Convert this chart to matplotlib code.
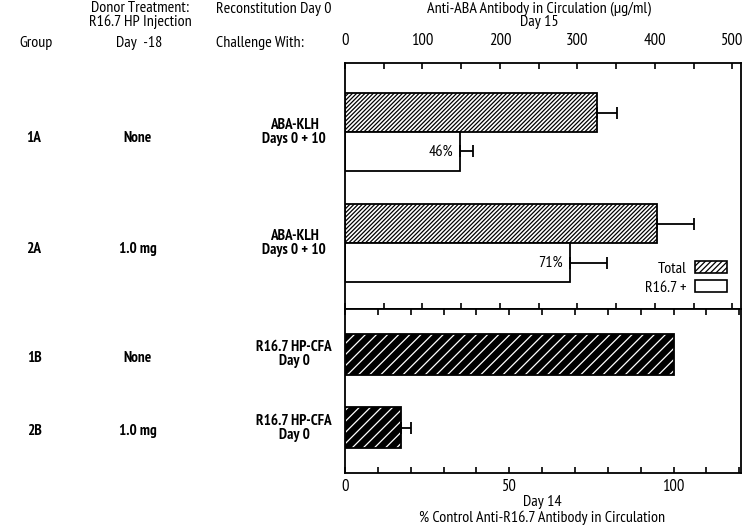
import numpy as np
import matplotlib.pyplot as plt
from matplotlib.patches import Patch
from matplotlib.transforms import blended_transform_factory
from matplotlib.ticker import MultipleLocator

plt.rcParams['font.family'] = ['PT Sans Narrow', 'DejaVu Sans']
plt.rcParams['font.size'] = 11.5
plt.rcParams['hatch.linewidth'] = 0.9

# top panel: anti-ABA antibody, day 15 (ug/ml)
aba_groups = ["1A", "2A"]
aba_donor = ["None", "1.0 mg"]
aba_challenge = ["ABA-KLH\nDays 0 + 10", "ABA-KLH\nDays 0 + 10"]
aba_total = [325, 402]
aba_total_err = [26, 48]
aba_r167 = [149, 290]
aba_r167_err = [16, 48]
aba_pct = ["46%", "71%"]

# bottom panel: % control anti-R16.7 antibody, day 14
r167_groups = ["1B", "2B"]
r167_donor = ["None", "1.0 mg"]
r167_challenge = ["R16.7 HP-CFA\nDay 0", "R16.7 HP-CFA\nDay 0"]
r167_pct = [100, 17]
r167_err = [0, 3]

W, H = 745, 527
FS = 11.5   # regular text
FB = 11     # bold row labels
HATCH_TOP = "////////"
HATCH_BOT = "///"


def fx(px):
    return px / W


def fy(py):
    return 1 - py / H


fig = plt.figure(figsize=(W / 100, H / 100), dpi=100)
ax1 = fig.add_axes([fx(345), fy(309), (741 - 345) / W, (309 - 63) / H])
ax2 = fig.add_axes([fx(345), fy(473), (741 - 345) / W, (473 - 309) / H])

# ---- top panel
pos = np.arange(len(aba_groups))
h = 0.35
ax1.barh(pos - h / 2, aba_total, height=h, color="white", edgecolor="black",
         hatch=HATCH_TOP, lw=1.3, zorder=2)
ax1.barh(pos + h / 2, aba_r167, height=h, color="white", edgecolor="black",
         lw=1.3, zorder=2)
ax1.errorbar(aba_total, pos - h / 2, xerr=[np.zeros(2), aba_total_err],
             fmt="none", ecolor="black", elinewidth=1.3, capsize=4, capthick=1.3)
ax1.errorbar(aba_r167, pos + h / 2, xerr=[np.zeros(2), aba_r167_err],
             fmt="none", ecolor="black", elinewidth=1.3, capsize=4, capthick=1.3)
for v, y, t in zip(aba_r167, pos + h / 2, aba_pct):
    ax1.annotate(t, (v, y), xytext=(-5, 0), textcoords="offset points",
                 ha="right", va="center", fontsize=FS)

ax1.set_xlim(0, 511)
ax1.set_ylim(1.59, -0.62)
ax1.xaxis.set_major_locator(MultipleLocator(100))
ax1.xaxis.set_minor_locator(MultipleLocator(50))
ax1.tick_params(axis="x", which="both", direction="in", top=True, bottom=True,
                labeltop=True, labelbottom=False, length=4, width=1.2, pad=10,
                labelsize=FS + 0.5)
ax1.set_yticks([])

ax1.legend(handles=[Patch(facecolor="white", edgecolor="black", hatch="//////", lw=1.2),
                    Patch(facecolor="white", edgecolor="black", lw=1.2)],
           labels=["Total", "R16.7 +"], loc="lower right", frameon=False,
           markerfirst=False, handlelength=2.0, handleheight=0.7,
           labelspacing=0.3, handletextpad=0.5, fontsize=FS)

# ---- bottom panel
pos2 = np.arange(len(r167_groups))
h2 = 0.56
ax2.barh(pos2, r167_pct, height=h2, color="black", edgecolor="white",
         hatch=HATCH_BOT, lw=0, zorder=2)
ax2.barh(pos2, r167_pct, height=h2, fill=False, edgecolor="black", lw=1.3, zorder=3)
for v, y, e in zip(r167_pct, pos2, r167_err):
    if e > 0:
        ax2.errorbar(v, y, xerr=[[0], [e]], fmt="none", ecolor="black",
                     elinewidth=1.3, capsize=4, capthick=1.3)

ax2.set_xlim(0, 120.5)
ax2.set_ylim(1.62, -0.62)
ax2.xaxis.set_major_locator(MultipleLocator(50))
ax2.xaxis.set_minor_locator(MultipleLocator(10))
ax2.tick_params(axis="x", which="both", direction="in", top=True, bottom=True,
                labeltop=False, labelbottom=True, length=4, width=1.2, pad=4,
                labelsize=FS + 0.5)
ax2.set_yticks([])

for ax in (ax1, ax2):
    for s in ax.spines.values():
        s.set_linewidth(1.3)

# ---- row labels on the left
for ax, groups, donor, chal, p in ((ax1, aba_groups, aba_donor, aba_challenge, pos),
                                   (ax2, r167_groups, r167_donor, r167_challenge, pos2)):
    tr = blended_transform_factory(fig.transFigure, ax.transData)
    for g, d, c, y in zip(groups, donor, chal, p):
        ax.text(fx(34), y + 0.05, g, transform=tr, ha="center", va="center",
                fontweight="bold", fontsize=FB)
        ax.text(fx(138), y + 0.05, d, transform=tr, ha="center", va="center",
                fontweight="bold", fontsize=FB)
        ax.text(fx(294), y, c, transform=tr, ha="center", va="center",
                fontweight="bold", fontsize=FB, linespacing=1.0)

# ---- headers
fig.text(fx(36), fy(43), "Group", ha="center", va="center", fontsize=FS)
fig.text(fx(140), fy(15), "Donor Treatment:\nR16.7 HP Injection", ha="center",
         va="center", fontsize=FS, linespacing=0.95)
fig.text(fx(139), fy(43), "Day  -18", ha="center", va="center", fontsize=FS)
fig.text(fx(216), fy(9), "Reconstitution Day 0", ha="left", va="center", fontsize=FS)
fig.text(fx(216), fy(43), "Challenge With:", ha="left", va="center", fontsize=FS)
fig.text(fx(539), fy(15), "Anti-ABA Antibody in Circulation (\u00b5g/ml)\nDay 15",
         ha="center", va="center", fontsize=FS, linespacing=0.95)
fig.text(fx(542), fy(510), "Day 14\n% Control Anti-R16.7 Antibody in Circulation",
         ha="center", va="center", fontsize=FS, linespacing=1.05)

fig.savefig("out.png", dpi=100)
